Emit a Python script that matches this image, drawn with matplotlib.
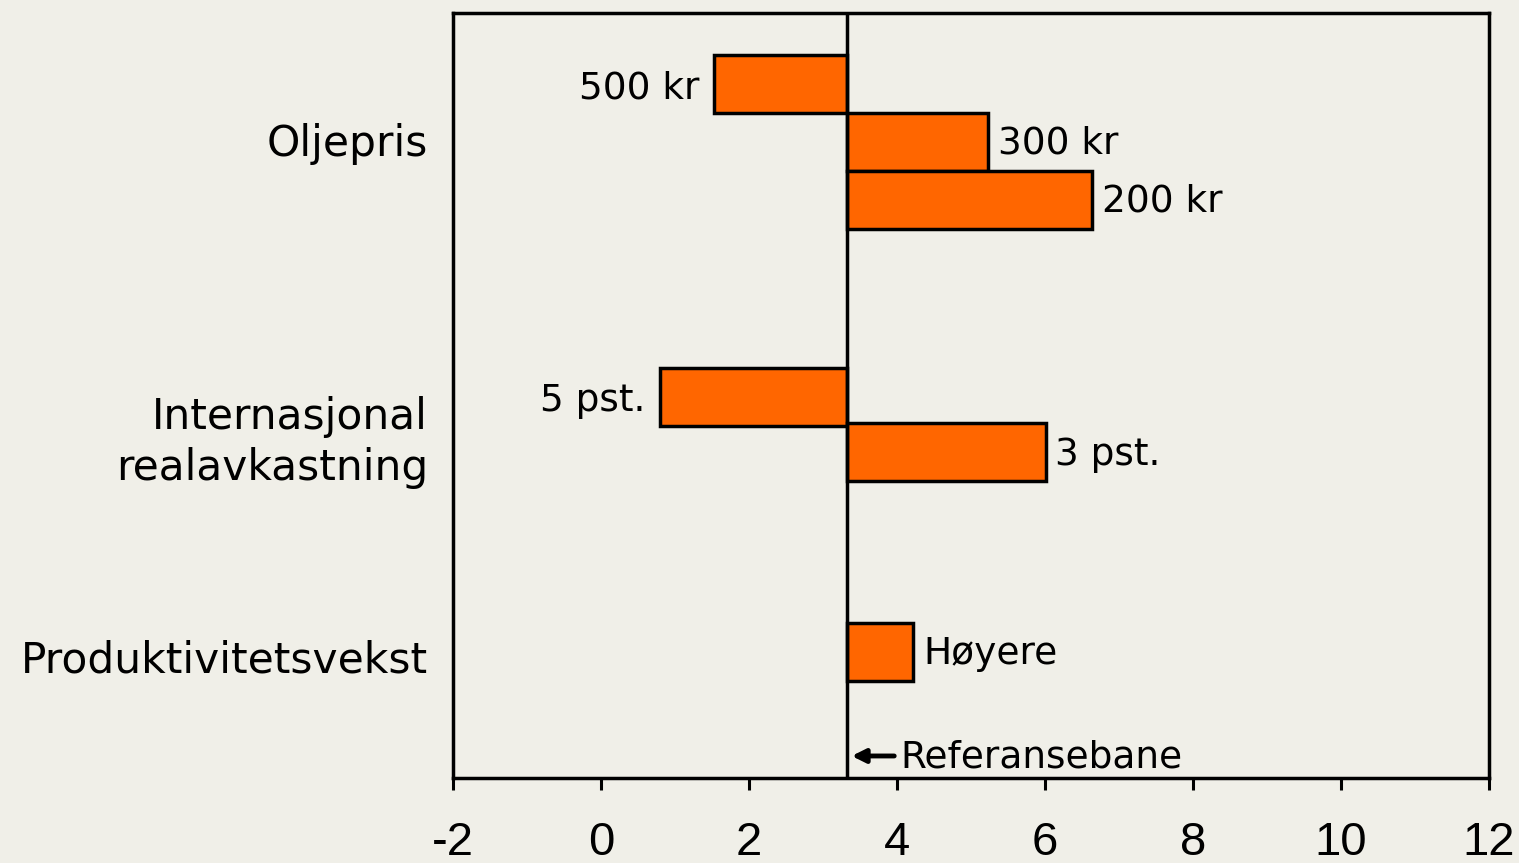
import numpy as np
import matplotlib.pyplot as plt

plt.rcParams['axes.unicode_minus'] = False

# Verdier lest av figuren
referanse = 3.32
kategorier = ['Oljepris', 'Internasjonal\nrealavkastning', 'Produktivitetsvekst']
etiketter = ['500 kr', '300 kr', '200 kr', '5 pst.', '3 pst.', 'Høyere']
verdier = [1.53, 5.23, 6.64, 0.80, 6.01, 4.22]

bg = '#F0EFE8'
orange = '#FF6600'

fig = plt.figure(figsize=(15.19, 8.63), dpi=100, facecolor=bg)
ax = fig.add_axes([453/1519, 1-778/863, 1036/1519, 765/863], facecolor=bg)

# posisjoner i stolpehoyder (topp = 0)
ypos = [1.22, 2.22, 3.22, 6.62, 7.58, 11.02]
kat_y = [2.19, 7.26, 11.1]

for y, v, lab in zip(ypos, verdier, etiketter):
    ax.barh(y, v - referanse, left=referanse, height=1.0, color=orange,
            edgecolor='black', linewidth=2.5, zorder=2)
    if v < referanse:
        ax.text(v - 0.2, y + 0.08, lab, ha='right', va='center', fontsize=27)
    else:
        ax.text(v + 0.13, y + 0.04, lab, ha='left', va='center', fontsize=27)

ax.axvline(referanse, color='black', linewidth=2.5, zorder=3)
ax.annotate('', xy=(referanse + 0.03, 12.82), xytext=(referanse + 0.68, 12.82),
            arrowprops=dict(arrowstyle='-|>', color='black', lw=3.5, mutation_scale=20))
ax.text(referanse + 0.72, 12.85, 'Referansebane', ha='left', va='center', fontsize=27)

ax.set_xlim(-2, 12)
ax.set_ylim(13.2, 0)
ax.set_xticks(np.arange(-2, 13, 2))
ax.set_xticklabels([str(t) for t in range(-2, 13, 2)], family='Liberation Sans', fontsize=34)
ax.set_yticks(kat_y)
ax.set_yticklabels(kategorier, fontsize=30.5, linespacing=1.25)
ax.tick_params(axis='y', length=0, pad=18)
ax.tick_params(axis='x', direction='out', length=8.6, width=2.2, pad=22)
for s in ax.spines.values():
    s.set_linewidth(2.5)

fig.savefig('out.png', dpi=100, facecolor=bg)
